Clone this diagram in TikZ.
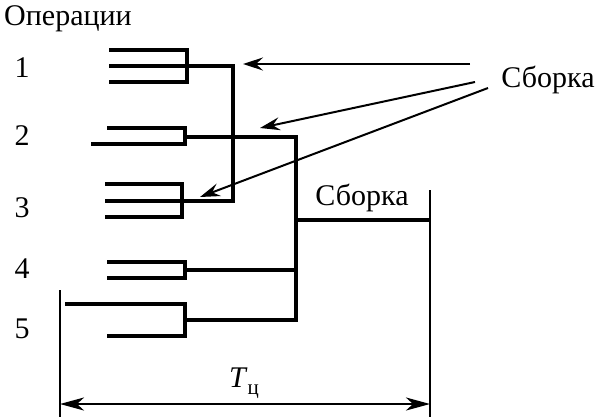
\documentclass[tikz,border=0pt]{standalone}
\usepackage{fontspec}
\setmainfont{Liberation Serif}
\usetikzlibrary{arrows.meta}
\begin{document}
\begin{tikzpicture}[x=0.5pt,y=-0.5pt,
  op/.style={line width=2pt},
  link/.style={line width=2pt},
  pointer/.style={line width=1pt,-{Stealth[length=10pt,width=6.5pt,inset=3.5pt]}},
  dimline/.style={line width=0.6pt},
  lbl/.style={font=\fontsize{15}{17}\selectfont,inner sep=0pt}]
\useasboundingbox (0,0) rectangle (597,417);

% operation brackets
\draw[op] (109,50) -- (187,50) -- (187,82) -- (109,82);
\draw[op] (109,66) -- (187,66);
\draw[op] (107,128) -- (185,128) -- (185,144) -- (91,144);
\draw[op] (105,184) -- (182,184) -- (182,217) -- (105,217);
\draw[op] (105,201) -- (182,201);
\draw[op] (107,262) -- (185,262) -- (185,278) -- (107,278);
\draw[op] (65,304) -- (185,304) -- (185,336) -- (107,336);

% assembly links
\coordinate (j13) at (233,66);
\coordinate (j13b) at (233,201);
\draw[link] (187,66) -- (j13) -- (j13b) -- (182,201);
\coordinate (j2) at (296,137);
\coordinate (j5) at (296,320);
\draw[link] (185,137) -- (j2) -- (j5) -- (185,320);
\draw[link] (185,270) -- (296,270);
\coordinate (fin) at (430,220);
\draw[link] (296,220) -- (fin);

% cycle time dimension
\draw[dimline] (60,290) -- (60,417);
\draw[dimline] (430,190) -- (430,417);
\coordinate (dl) at (60,404);
\coordinate (dr) at (430,404);
\draw[line width=1.2pt,{Stealth[length=12pt,width=6.5pt,inset=3.5pt]}-{Stealth[length=12pt,width=6.5pt,inset=3.5pt]}] (dl) -- (dr);
\node[lbl] (tc) at (244,383) {\textit{T}\raisebox{-0.25em}{\fontsize{10.5}{12}\selectfont ц}};

% labels
\node[lbl] (ops) at (68,19) {Операции};
\node[lbl] (n1) at (22,68) {1};
\node[lbl] (n2) at (22,136) {2};
\node[lbl] (n3) at (22,208) {3};
\node[lbl] (n4) at (22,269) {4};
\node[lbl] (n5) at (22,329) {5};
\node[lbl] (sb) at (548,80) {Сборка};
\node[lbl] (sb2) at (362,198) {Сборка};

% pointers
\coordinate (p1) at (470,64);
\coordinate (p2) at (475,82);
\coordinate (p3) at (488,88);
\coordinate (t1) at (243,64);
\coordinate (t2) at (260,128);
\coordinate (t3) at (200,197);
\draw[pointer] (p1) -- (t1);
\draw[pointer] (p2) -- (t2);
\draw[pointer] (p3) -- (t3);
\end{tikzpicture}
\end{document}
